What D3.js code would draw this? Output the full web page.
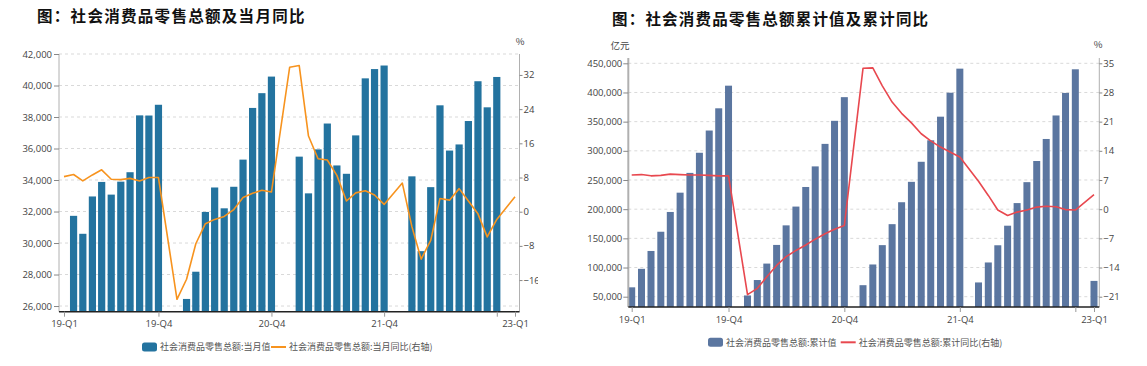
<!DOCTYPE html>
<html><head><meta charset="utf-8">
<script src="https://cdn.jsdelivr.net/npm/d3@7"></script>
<style>
body{margin:0;background:#fff;}
svg{display:block;font-family:"Noto Sans CJK SC","Open Sans",sans-serif;}
.tick text{fill:#444;font-size:9.5px;font-family:"Open Sans","Noto Sans",sans-serif;}
</style></head>
<body><svg id="c" width="1147" height="366"></svg>
<script>
// ---- data ----
const lineDates = [
 "2019-02","2019-03","2019-04","2019-05","2019-06","2019-07","2019-08","2019-09","2019-10","2019-11","2019-12",
 "2020-02","2020-03","2020-04","2020-05","2020-06","2020-07","2020-08","2020-09","2020-10","2020-11","2020-12",
 "2021-02","2021-03","2021-04","2021-05","2021-06","2021-07","2021-08","2021-09","2021-10","2021-11","2021-12",
 "2022-02","2022-03","2022-04","2022-05","2022-06","2022-07","2022-08","2022-09","2022-10","2022-11","2022-12",
 "2023-02"];
const monthlyBarDates = lineDates.filter(d => !d.endsWith("-02"));
const monthlyValue = [
 31726,30586,32956,33878,33073,33896,34495,38104,38094,38777,
 26450,28178,31973,33526,32203,33571,35295,38576,39514,40566,
 35484,33153,35945,37586,34925,34395,36833,40454,41043,41269,
 34233,29483,33547,38742,35870,36258,37745,40271,38615,40542];
const monthlyYoY = [
 8.2,8.7,7.2,8.6,9.8,7.6,7.5,7.8,7.2,8.0,8.0,
 -20.5,-15.8,-7.5,-2.8,-1.8,-1.1,0.5,3.3,4.3,5.0,4.6,
 33.8,34.2,17.7,12.4,12.1,8.5,2.5,4.4,4.9,3.9,1.7,
 6.7,-3.5,-11.1,-6.7,3.1,2.7,5.4,2.5,-0.5,-5.9,-1.8,
 3.5];
const cumValue = [
 66064,97790,128376,161332,195210,228283,262179,296674,334778,372872,411649,
 52130,78580,106758,138730,172256,204459,238030,273324,311900,351414,391981,
 69737,105221,138373,174319,211904,246829,281224,318057,358511,399554,440823,
 74426,108659,138142,171689,210432,246302,282560,320305,360575,399190,439733,
 77067];
const cumYoY = [
 8.2,8.3,8.0,8.1,8.4,8.3,8.2,8.2,8.1,8.0,8.0,
 -20.5,-19.0,-16.2,-13.5,-11.4,-9.9,-8.6,-7.2,-5.9,-4.8,-3.9,
 33.8,33.9,29.6,25.7,23.0,20.7,18.1,16.4,14.9,13.7,12.5,
 6.7,3.3,-0.2,-1.5,-0.7,-0.2,0.5,0.7,0.6,-0.1,-0.2,
 3.5];
const xTickDates = ["2019-02","2019-12","2020-12","2021-12","2022-12","2023-02"];
const xTickLabels = ["19-Q1","19-Q4","20-Q4","21-Q4","","23-Q1"];
const leftTicks1 = [26000,28000,30000,32000,34000,36000,38000,40000,42000];
const rightTicks1 = [-16,-8,0,8,16,24,32];
const leftTicks2 = [50000,100000,150000,200000,250000,300000,350000,400000,450000];
const rightTicks2 = [-21,-14,-7,0,7,14,21,28,35];
const title1 = "图：社会消费品零售总额及当月同比";
const title2 = "图：社会消费品零售总额累计值及累计同比";
const legend1 = ["社会消费品零售总额:当月值","社会消费品零售总额:当月同比(右轴)"];
const legend2 = ["社会消费品零售总额:累计值","社会消费品零售总额:累计同比(右轴)"];
const unit2 = "亿元";

// ---- helpers ----
const monthEnd = s => { const [y,m] = s.split("-").map(Number); return new Date(y, m, 0); };
const fmt = d3.format(",");
const svg = d3.select("#c");
svg.append("defs").append("clipPath").attr("id","clipL")
  .append("rect").attr("x",0).attr("y",0).attr("width",538).attr("height",366);

function drawChart(g, cfg){
  const x = d3.scaleTime().domain([monthEnd("2019-02"), monthEnd("2023-02")]).range(cfg.xRange);
  const yL = d3.scaleLinear().domain(cfg.yLDomain).range([cfg.bottom, cfg.top]);
  const yR = d3.scaleLinear().domain(cfg.yRDomain).range([cfg.bottom, cfg.top]);
  const [ax0, ax1] = cfg.axisX;
  // grid
  g.append("g").selectAll("line").data(cfg.leftTicks).join("line")
    .attr("x1",ax0).attr("x2",ax1).attr("y1",d=>yL(d)).attr("y2",d=>yL(d))
    .attr("stroke","#d9d9d9").attr("stroke-dasharray","3,3");
  // bars
  g.append("g").selectAll("rect").data(cfg.barDates.map((d,i)=>({d, v:cfg.barValues[i]}))).join("rect")
    .attr("x",d=>x(monthEnd(d.d))-cfg.barW/2).attr("width",cfg.barW)
    .attr("y",d=>yL(d.v)).attr("height",d=>cfg.bottom-yL(d.v))
    .attr("fill",cfg.barColor);
  // line
  const line = d3.line().x(d=>x(monthEnd(d.d))).y(d=>yR(d.v));
  g.append("path").datum(lineDates.map((d,i)=>({d, v:cfg.lineValues[i]})))
    .attr("d",line).attr("fill","none").attr("stroke",cfg.lineColor).attr("stroke-width",1.6)
    .attr("stroke-linejoin","round");
  // left axis
  const la = g.append("g").attr("transform",`translate(${ax0},0)`)
    .call(d3.axisLeft(yL).tickValues(cfg.leftTicks).tickFormat(fmt).tickSize(5).tickPadding(cfg.lPad).tickSizeOuter(0));
  la.select(".domain").attr("stroke","#b0b0b0").attr("stroke-width",cfg.lAxisW).attr("d",`M0,${cfg.top}V${cfg.bottom}`);
  la.selectAll(".tick line").attr("stroke","#888");
  // right axis
  const ra = g.append("g").attr("transform",`translate(${ax1},0)`)
    .call(d3.axisRight(yR).tickValues(cfg.rightTicks).tickSize(3).tickPadding(1).tickSizeOuter(0));
  ra.select(".domain").attr("stroke","#b0b0b0").attr("d",`M0,${cfg.top}V${cfg.bottom}`);
  ra.selectAll(".tick line").attr("stroke","#888");
  // x axis
  const xa = g.append("g").attr("transform",`translate(0,${cfg.bottom})`)
    .call(d3.axisBottom(x).tickValues(xTickDates.map(monthEnd))
      .tickFormat((d,i)=>xTickLabels[i]).tickSize(5).tickPadding(4).tickSizeOuter(0));
  xa.select(".domain").attr("stroke","#222").attr("stroke-width",1.6).attr("d",`M${ax0},0H${ax1}`);
  xa.selectAll(".tick line").attr("stroke","#999");
  // % label
  g.append("text").attr("x",cfg.pctX).attr("y",cfg.pctY).attr("text-anchor","middle")
    .attr("font-size",9.5).attr("fill","#444").text("%");
  // title
  g.append("text").attr("x",cfg.titleX).attr("y",cfg.titleY)
    .attr("font-size",15.5).attr("font-weight",700).attr("letter-spacing",cfg.titleLS)
    .attr("fill","#111").text(cfg.title);
  // legend
  const lg = g.append("g");
  lg.append("rect").attr("x",cfg.legX).attr("y",cfg.legY-4.5).attr("width",15).attr("height",9)
    .attr("rx",2.5).attr("fill",cfg.barColor);
  lg.append("text").attr("x",cfg.legX+18).attr("y",cfg.legY+3.2).attr("font-size",9)
    .attr("fill","#555").text(cfg.legend[0]);
  lg.append("line").attr("x1",cfg.leg2X).attr("x2",cfg.leg2X+15).attr("y1",cfg.legY).attr("y2",cfg.legY)
    .attr("stroke",cfg.lineColor).attr("stroke-width",2);
  lg.append("text").attr("x",cfg.leg2X+18).attr("y",cfg.legY+3.2).attr("font-size",9)
    .attr("fill","#555").text(cfg.legend[1]);
  return {x,yL,yR};
}

const g1 = svg.append("g").attr("clip-path","url(#clipL)");
drawChart(g1, {
  xRange:[64,515], axisX:[59,519.5], top:54, bottom:311.7,
  yLDomain:[25640,42000], yRDomain:[-23.4,36.9],
  leftTicks:leftTicks1, rightTicks:rightTicks1, lPad:2, lAxisW:1,
  barDates:monthlyBarDates, barValues:monthlyValue, barW:7.2,
  barColor:"#23739f", lineValues:monthlyYoY, lineColor:"#f7931e",
  pctX:520, pctY:45, title:title1, titleX:37, titleY:21.5, titleLS:1.3,
  legend:legend1, legX:142, legY:347, leg2X:271
});
const g2 = svg.append("g");
drawChart(g2, {
  xRange:[631.7,1094], axisX:[628.3,1099.3], top:58, bottom:307,
  yLDomain:[32350,459080], yRDomain:[-23.47,36.27],
  leftTicks:leftTicks2, rightTicks:rightTicks2, lPad:1, lAxisW:2,
  barDates:lineDates, barValues:cumValue, barW:7,
  barColor:"#5b76a0", lineValues:cumYoY, lineColor:"#e8484f",
  pctX:1098, pctY:48, title:title2, titleX:612, titleY:25, titleLS:1.2,
  legend:legend2, legX:708, legY:342.3, leg2X:840.7
});
g2.append("text").attr("x",620).attr("y",49).attr("text-anchor","middle")
  .attr("font-size",9.5).attr("fill","#444").text(unit2);
</script></body></html>
